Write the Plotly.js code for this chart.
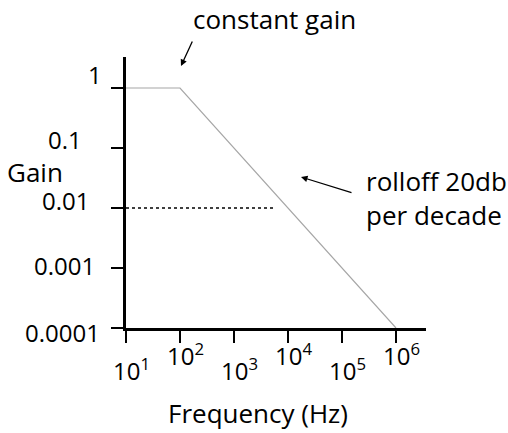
<!DOCTYPE html>
<html>
<head>
<meta charset="utf-8">
<script src="https://cdn.plot.ly/plotly-3.0.1.min.js"></script>
<style>html,body{margin:0;padding:0;background:#fff;}#chart{width:508px;height:433px;}</style>
</head>
<body>
<div id="chart"></div>
<script>
// ---- data ----
const freq = [10, 100, 1000000];
const gain = [1, 1, 0.0001];
const refFreq = [10, 6000];
const refGain = [0.01, 0.01];
const xTickVals = [10, 100, 1000, 10000, 100000, 1000000];
const xTickText = ["10<sup>1</sup>", "10<sup>2</sup>", "10<sup>3</sup>", "10<sup>4</sup>", "10<sup>5</sup>", "10<sup>6</sup>"];
const yTickVals = [1, 0.1, 0.01, 0.001, 0.0001];
const yTickText = ["1", "0.1", "0.01", "0.001", "0.0001"];
const xTitle = "Frequency (Hz)";
const yTitle = "Gain";
const note1 = "constant gain";
const note2 = "rolloff 20db<br>per decade";

// ---- styling ----
const FONT = "'Open Sans', sans-serif";
const FD = 24;   // digits
const FW = 26;   // words
const L = 126, R = 82, T = 57, B = 105, W = 508, H = 433;
const pw = W - L - R, ph = H - T - B;
const pxPerDecX = 54, pxPerDecY = 60;
const yLabelRight = [104, 84, 91, 97, 102];
const yLabelDy = [-14, -9, -8, -3, 4];
const px = v => (v - L) / pw;
const py = v => (H - B - v) / ph;

const traces = [
  {x: freq, y: gain, type: 'scatter', mode: 'lines',
   line: {color: '#a6a6a6', width: 1.2}, hoverinfo: 'skip', cliponaxis: false},
  {x: refFreq, y: refGain, type: 'scatter', mode: 'lines',
   line: {color: '#000', width: 1.5, dash: 'dot'}, hoverinfo: 'skip'}
];

const ann = [];
xTickVals.forEach((v, i) => {
  const low = i % 2 === 0;
  ann.push({x: Math.log10(v), xref: 'x', y: 0, yref: 'paper', text: xTickText[i],
    showarrow: false, xanchor: 'center', yanchor: 'middle', xshift: 5,
    yshift: low ? -41 : -26, font: {family: FONT, size: FD, color: '#000'}});
});
yTickVals.forEach((v, i) => {
  ann.push({x: 0, xref: 'paper', y: Math.log10(v), yref: 'y', text: yTickText[i],
    showarrow: false, xanchor: 'right', yanchor: 'middle', xshift: yLabelRight[i] - L,
    yshift: -yLabelDy[i], font: {family: FONT, size: FD, color: '#000'}});
});
ann.push({x: px(35), y: py(172), xref: 'paper', yref: 'paper', text: yTitle, showarrow: false,
  xanchor: 'center', yanchor: 'middle', font: {family: FONT, size: FW, color: '#000'}});
ann.push({x: px(258), y: py(413), xref: 'paper', yref: 'paper', text: xTitle, showarrow: false,
  xanchor: 'center', yanchor: 'middle', font: {family: FONT, size: FW, color: '#000'}});
ann.push({x: px(274), y: py(19), xref: 'paper', yref: 'paper', text: note1, showarrow: false,
  xanchor: 'center', yanchor: 'middle', font: {family: FONT, size: FW, color: '#000'}});
ann.push({x: px(364), y: py(198), xref: 'paper', yref: 'paper', text: note2, showarrow: false,
  xanchor: 'left', yanchor: 'middle', align: 'left', font: {family: FONT, size: FW, color: '#000'}});
ann.push({x: px(181), y: py(66), xref: 'paper', yref: 'paper', text: '', showarrow: true,
  ax: 12, ay: -26, arrowhead: 2, arrowsize: 1, arrowwidth: 1.3, arrowcolor: '#000'});
ann.push({x: px(301), y: py(177), xref: 'paper', yref: 'paper', text: '', showarrow: true,
  ax: 52, ay: 16, arrowhead: 2, arrowsize: 1, arrowwidth: 1.3, arrowcolor: '#000'});

const layout = {
  width: W, height: H,
  margin: {l: L, r: R, t: T, b: B, pad: 0},
  paper_bgcolor: '#fff', plot_bgcolor: '#fff',
  showlegend: false,
  font: {family: FONT, size: FD, color: '#000'},
  xaxis: {type: 'log', range: [1, 1 + pw / pxPerDecX], showgrid: false, zeroline: false,
    showline: true, linecolor: '#000', linewidth: 3, ticks: 'outside', ticklen: 12,
    tickwidth: 1.3, tickcolor: '#000', tickvals: xTickVals, showticklabels: false, fixedrange: true},
  yaxis: {type: 'log', range: [-4, -4 + ph / pxPerDecY], showgrid: false, zeroline: false,
    showline: true, linecolor: '#000', linewidth: 3, ticks: 'outside', ticklen: 12,
    tickwidth: 1.3, tickcolor: '#000', tickvals: yTickVals, showticklabels: false, fixedrange: true},
  annotations: ann
};
Plotly.newPlot('chart', traces, layout, {displayModeBar: false, staticPlot: true});
</script>
</body>
</html>
